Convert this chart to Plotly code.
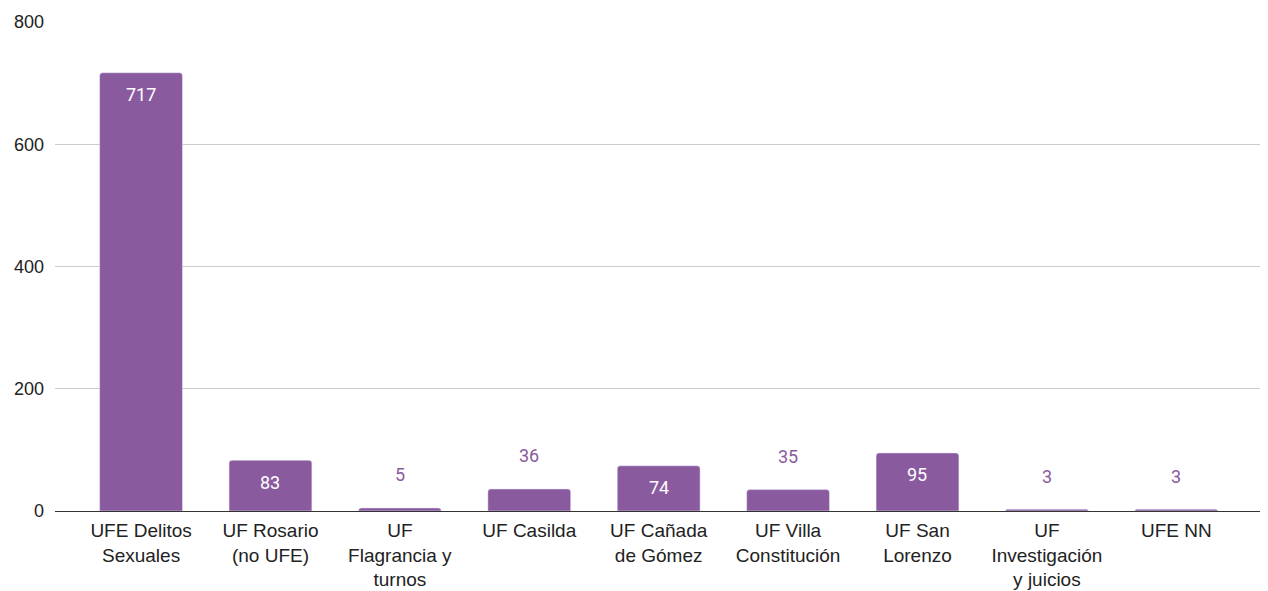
import plotly.graph_objects as go

categorias = [
    "UFE Delitos<br>Sexuales",
    "UF Rosario<br>(no UFE)",
    "UF<br>Flagrancia y<br>turnos",
    "UF Casilda",
    "UF Cañada<br>de Gómez",
    "UF Villa<br>Constitución",
    "UF San<br>Lorenzo",
    "UF<br>Investigación<br>y juicios",
    "UFE NN",
]
valores = [717, 83, 5, 36, 74, 35, 95, 3, 3]
y_ticks = [0, 200, 400, 600, 800]

color_barra = "#8A5A9F"

fig = go.Figure(go.Bar(
    x=categorias,
    y=valores,
    marker=dict(color=color_barra, cornerradius=3),
    width=0.64,
    hoverinfo="x+y",
))

# etiquetas de valor: dentro de la barra si es alta, arriba si es baja
for cat, val in zip(categorias, valores):
    dentro = val > 50
    fig.add_annotation(
        x=cat, y=val, text=str(val), showarrow=False,
        yshift=-22 if dentro else 33,
        font=dict(family="Roboto", size=18,
                  color="white" if dentro else color_barra),
    )

# la página tiene 8px de margen en el body
fig.update_layout(
    width=1260, height=583,
    margin=dict(l=47, r=5, t=14, b=80),
    plot_bgcolor="white",
    paper_bgcolor="white",
    showlegend=False,
    font=dict(family="Liberation Sans, Arial", size=18, color="#222"),
)
fig.update_xaxes(
    range=[-0.665, 8.67],
    showline=True, linecolor="#333", linewidth=1,
    ticks="", tickfont=dict(size=19, color="#222"),
    ticklabelstandoff=2,
    automargin=False,
)
fig.update_yaxes(
    range=[0, 800], tickvals=y_ticks,
    showgrid=True, gridcolor="#cccccc", gridwidth=1,
    zeroline=True, zerolinecolor="#333", zerolinewidth=1,
    ticks="", ticklabelstandoff=10,
    tickfont=dict(size=18, color="#222"),
    automargin=False,
)

fig.write_html("out.html")
